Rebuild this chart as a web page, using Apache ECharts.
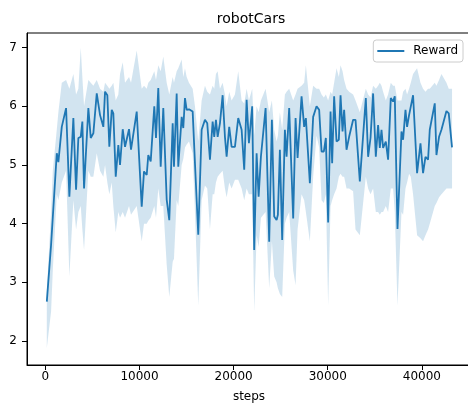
<!DOCTYPE html>
<html>
<head>
<meta charset="utf-8">
<script src="https://cdn.jsdelivr.net/npm/echarts@6/dist/echarts.min.js"></script>
<style>html,body{margin:0;padding:0;background:#fff;}#c{width:468px;height:403px;}</style>
</head>
<body>
<div id="c"></div>
<script>
const titleText = 'robotCars';
const seriesName = 'Reward';
const xName = 'steps';
const xTicks = [0, 10000, 20000, 30000, 40000];
const yTicks = [2, 3, 4, 5, 6, 7];

const steps = [
150,605,786,1210,1380,1741,2198,2548,2972,3259,
3503,3758,3928,4108,4565,4820,5096,5457,5807,6157,
6338,6582,6794,7049,7219,7474,7750,7930,8217,8461,
8886,9098,9703,10234,10478,10765,10934,11189,11571,11752,
11996,12251,12527,12888,13164,13525,13663,13949,14119,14480,
14650,14831,15011,15255,15648,15892,16242,16603,16954,17198,
17485,17771,17941,18121,18302,18546,18833,19077,19257,19533,
19788,20139,20489,20850,21126,21381,21625,21975,22187,22442,
22655,22899,23398,23780,24066,24311,24565,24703,24916,25160,
25447,25627,25903,26328,26582,26795,27219,27495,27676,28100,
28451,28812,29088,29342,29587,29799,30043,30298,30468,30680,
30935,31179,31360,31572,31742,31997,32273,32697,32952,33409,
34046,34290,34545,34820,35107,35351,35532,35712,35882,36169,
36413,36699,36944,37124,37411,37835,38005,38260,38430,38642,
38822,39067,39492,39853,40128,40383,40659,40840,41371,41551,
41827,42082,42613,42857,43207];

const reward = [
2.67,3.64,3.64,5.2,5.05,5.65,5.97,4.46,5.8,4.58,
5.46,5.48,5.74,4.6,5.97,5.46,5.54,6.22,5.85,5.65,
6.25,6.19,5.31,5.94,5.88,4.8,5.34,5.0,5.61,5.31,
5.61,5.26,5.91,4.29,4.89,4.83,5.17,5.06,6.0,5.46,
6.31,4.97,5.97,4.41,4.06,5.71,4.97,6.22,4.97,5.82,
5.63,6.14,5.94,5.95,5.91,5.03,3.81,5.6,5.77,5.71,
5.09,5.74,5.48,5.77,5.48,5.71,6.19,5.48,5.14,5.65,
5.31,5.31,5.8,5.6,4.92,6.11,5.37,6.0,3.55,5.2,
4.46,5.14,5.97,3.69,5.77,4.12,4.06,4.15,5.26,3.72,
5.6,5.14,5.97,4.09,5.8,5.12,6.17,5.65,5.8,4.69,
5.82,6.0,5.94,5.23,5.23,5.46,4.02,5.91,5.03,6.17,
5.4,5.43,6.19,5.57,5.94,5.26,5.48,5.77,5.77,4.72,
6.14,5.14,5.46,6.22,5.14,5.68,5.29,5.6,5.29,5.4,
5.09,6.14,6.08,6.17,3.91,5.57,5.43,5.94,5.65,5.85,
5.83,6.19,4.86,5.37,4.86,5.14,5.09,5.6,6.05,5.17,
5.48,5.6,5.92,5.88,5.3];

const upper = [
2.84,4.2,4.9,5.6,5.9,6.4,6.45,6.3,6.55,6.2,
6.3,7.0,6.5,6.0,6.45,6.4,6.35,6.45,6.3,6.25,
6.4,6.35,6.3,6.35,6.4,6.1,6.2,6.55,6.75,6.4,
6.5,6.4,6.95,6.3,6.35,6.3,6.4,6.45,6.6,6.45,
6.7,6.6,6.85,6.4,6.2,6.5,6.4,6.6,6.65,6.8,
6.5,6.65,6.5,6.4,6.3,6.0,5.4,6.1,6.35,6.25,
6.2,6.35,6.3,6.55,6.6,6.3,6.4,6.2,6.0,6.25,
6.1,6.2,6.6,6.1,6.05,6.3,6.1,6.3,5.5,6.0,
5.9,6.1,6.3,5.9,6.1,5.6,5.4,5.5,5.9,5.6,
6.2,6.25,6.3,6.1,6.2,6.3,6.35,6.4,6.7,6.0,
6.35,6.3,6.3,6.2,6.15,6.2,6.1,6.25,6.2,6.4,
6.65,6.5,6.7,6.6,6.45,6.3,6.25,6.2,6.1,5.9,
6.3,6.2,6.15,6.35,6.3,6.35,6.4,6.35,6.25,6.1,
6.2,6.4,6.35,6.35,6.1,6.1,6.25,6.3,6.2,6.3,
6.4,6.55,6.65,6.4,6.3,6.25,6.3,6.3,6.4,6.35,
6.45,6.55,6.4,6.3,6.3];

const lower = [
1.88,2.5,3.2,4.5,4.4,4.7,4.9,3.1,4.4,3.9,
4.2,4.3,3.9,3.55,4.9,4.8,4.8,5.2,4.9,4.8,
5.0,4.7,4.5,4.7,4.3,3.85,4.2,4.1,4.2,4.1,
4.3,4.15,4.3,3.7,4.0,4.0,4.05,4.1,4.3,4.1,
4.6,4.3,4.3,3.3,2.75,3.35,3.4,4.4,4.3,5.0,
5.1,5.3,5.35,5.4,5.2,4.2,2.6,4.4,4.65,4.6,
3.9,4.5,4.5,4.7,4.8,4.85,4.9,4.6,4.45,4.7,
4.6,4.75,4.75,4.6,4.4,4.6,4.5,4.5,2.5,3.8,
3.6,4.1,4.2,2.9,3.7,3.1,3.0,2.9,2.8,2.75,
4.0,4.1,4.2,3.2,2.95,3.9,4.5,4.4,4.2,3.7,
4.8,5.5,5.3,4.4,4.35,4.5,2.6,4.3,4.4,4.5,
4.6,4.8,4.85,4.8,4.8,4.6,4.6,4.55,3.9,3.8,
4.8,4.6,4.5,4.6,4.2,4.2,4.15,4.2,4.2,4.3,
4.2,4.6,4.6,4.2,2.6,4.2,4.15,4.6,4.7,4.85,
4.8,4.5,3.8,3.75,3.7,3.8,3.9,4.0,4.3,4.35,
4.45,4.5,4.6,4.6,4.6];

const lineColor = '#1f77b4';
const bandColor = 'rgba(31,119,180,0.2)';
const font = 'DejaVu Sans';

const bandData = steps.map((s, i) => [s, lower[i], upper[i]]);
const rewardData = steps.map((s, i) => [s, reward[i]]);

function renderBand(params, api) {
  if (params.dataIndex !== 0) return null;
  const pts = [];
  for (let i = 0; i < steps.length; i++) pts.push(api.coord([steps[i], upper[i]]));
  for (let i = steps.length - 1; i >= 0; i--) pts.push(api.coord([steps[i], lower[i]]));
  return {type: 'polygon', shape: {points: pts}, style: {fill: bandColor, stroke: null}};
}

const chart = echarts.init(document.getElementById('c'), null, {renderer: 'canvas'});
chart.setOption({
  animation: false,
  backgroundColor: '#fff',
  title: {
    text: titleText,
    left: 246, top: 7, textAlign: 'center',
    textStyle: {fontFamily: font, fontSize: 14, fontWeight: 'normal', color: '#000'}
  },
  graphic: [{
    type: 'text', x: 249, y: 397, silent: true,
    style: {text: xName, fontFamily: font, fontSize: 12, fill: '#000', align: 'center', verticalAlign: 'middle'}
  }],
  legend: {
    data: [{name: seriesName, icon: 'rect'}],
    right: 5, top: 40,
    orient: 'vertical',
    backgroundColor: 'rgba(255,255,255,0.8)',
    borderColor: '#cccccc', borderWidth: 1, borderRadius: 3,
    padding: [5, 5, 5, 4],
    itemWidth: 27, itemHeight: 2, itemGap: 4,
    textStyle: {fontFamily: font, fontSize: 12, color: '#000', padding: [0, 0, 0, 4]}
  },
  grid: {
    left: 27, top: 33, width: 446, height: 332,
    containLabel: false, outerBoundsMode: 'none',
    show: true, borderColor: '#000', borderWidth: 1, backgroundColor: 'transparent'
  },
  xAxis: {
    type: 'value', min: -1954, max: 45434,
    axisLine: {show: true, onZero: false, lineStyle: {color: '#000', width: 1}},
    axisTick: {show: true, length: 5, lineStyle: {color: '#000'}, customValues: xTicks},
    axisLabel: {fontFamily: font, fontSize: 12, color: '#000', margin: 6, customValues: xTicks,
      hideOverlap: false, formatter: v => String(v)},
    splitLine: {show: false}
  },
  yAxis: {
    type: 'value', min: 1.59, max: 7.25,
    axisLine: {show: true, onZero: false, lineStyle: {color: '#000', width: 1}},
    axisTick: {show: true, length: 5, lineStyle: {color: '#000'}, customValues: yTicks},
    axisLabel: {fontFamily: font, fontSize: 12, color: '#000', margin: 10, customValues: yTicks,
      formatter: v => String(v)},
    splitLine: {show: false}
  },
  series: [
    {
      name: 'band', type: 'custom', data: bandData,
      encode: {x: 0, y: [1, 2]}, renderItem: renderBand, silent: true, z: 1
    },
    {
      name: seriesName, type: 'line', data: rewardData,
      symbol: 'none', color: lineColor,
      lineStyle: {color: lineColor, width: 1.8}, z: 3
    }
  ]
});
</script>
</body>
</html>
